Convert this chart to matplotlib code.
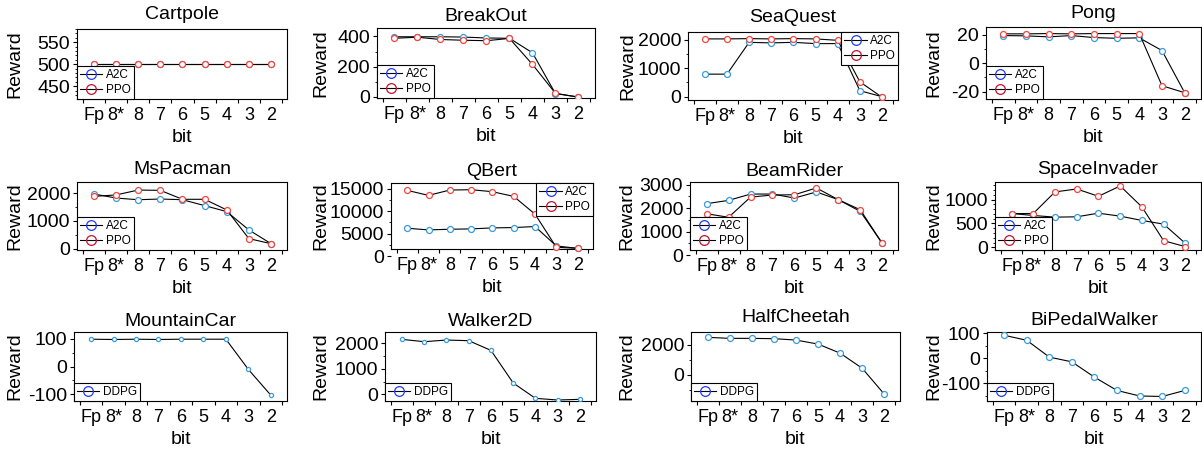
import matplotlib.pyplot as plt
from matplotlib.lines import Line2D
from matplotlib.ticker import MultipleLocator

plt.rcParams['font.family'] = ['Liberation Sans', 'DejaVu Sans']
plt.rcParams['axes.unicode_minus'] = False

# x categories (quantization bit width)
bits = ["Fp", "8*", "8", "7", "6", "5", "4", "3", "2"]

# rewards
cartpole_a2c = [500, 500, 500, 500, 500, 500, 500, 500, 500]
cartpole_ppo = [500, 500, 500, 500, 500, 500, 500, 500, 500]
breakout_a2c = [398, 398, 398, 396, 390, 388, 292, 22, 0]
breakout_ppo = [388, 395, 380, 375, 372, 387, 215, 24, -2]
seaquest_a2c = [790, 790, 1905, 1885, 1905, 1860, 1860, 210, 0]
seaquest_ppo = [2025, 2025, 2035, 2025, 2035, 2025, 1975, 520, -20]
pong_a2c = [19.3, 19.1, 18.4, 19.3, 17.9, 17.4, 17.7, 8.8, -20.7]
pong_ppo = [20.5, 20.5, 20.7, 20.5, 20.7, 20.7, 20.7, -15.8, -20.7]
mspacman_a2c = [1965, 1820, 1760, 1785, 1760, 1550, 1335, 680, 190]
mspacman_ppo = [1880, 1930, 2105, 2095, 1775, 1775, 1395, 370, 190]
qbert_a2c = [6190, 5820, 5970, 6045, 6270, 6345, 6570, 2240, 1720]
qbert_ppo = [14630, 13510, 14700, 14780, 14330, 13280, 9330, 1940, 1720]
beamrider_a2c = [2190, 2330, 2600, 2600, 2430, 2690, 2360, 1860, 500]
beamrider_ppo = [1760, 1610, 2470, 2560, 2570, 2860, 2360, 1930, 500]
spaceinvader_a2c = [708, 667, 632, 639, 715, 653, 563, 486, 83]
spaceinvader_ppo = [708, 708, 1160, 1222, 1069, 1285, 847, 139, 14]
mountaincar_ddpg = [99, 98, 99, 98, 99, 99, 99, -10, -103]
walker2d_ddpg = [2143, 2052, 2117, 2091, 1714, 442, -156, -221, -195]
halfcheetah_ddpg = [2489, 2422, 2422, 2400, 2311, 2044, 1444, 444, -1267]
bipedal_ddpg = [91, 71, 4, -15, -76, -129, -151, -153, -129]

W, H = 1202, 451
FS = 14

line_colors = {"A2C": "#3b9bdb", "PPO": "#f0473f", "DDPG": "#3b9bdb"}
legend_colors = {"A2C": "#1f3cff", "PPO": "#c8102e", "DDPG": "#1f3cff"}

# box = (left, top, right, bottom) in pixels; ylab = right edge of "Reward"
# low = lowest tick value when that tick label sits below the frame
panels = [
    dict(title="Cartpole", series=[("A2C", cartpole_a2c), ("PPO", cartpole_ppo)],
         box=(77, 29, 287, 99), ylim=(421, 580), yticks=[450, 500, 550], minor=10,
         loc="lower left", ylab=23, tdy=14, cover=False, ms=4.3),
    dict(title="BreakOut", series=[("A2C", breakout_a2c), ("PPO", breakout_ppo)],
         box=(377, 28, 595, 98), ylim=(-7, 456), yticks=[0, 200, 400], minor=100,
         loc="lower left", ylab=329, tdy=11, cover=False, ms=4.3),
    dict(title="SeaQuest", series=[("A2C", seaquest_a2c), ("PPO", seaquest_ppo)],
         box=(688, 32, 898, 100), ylim=(-116, 2267), yticks=[0, 1000, 2000], minor=500,
         loc="upper right", ylab=636, tdy=15, cover=False, ms=4.3),
    dict(title="Pong", series=[("A2C", pong_a2c), ("PPO", pong_ppo)],
         box=(986, 27, 1201, 99), ylim=(-25.1, 25.3), yticks=[-20, 0, 20], minor=10,
         loc="lower left", ylab=942, tdy=13, cover=True, ms=4.3),
    dict(title="MsPacman", series=[("A2C", mspacman_a2c), ("PPO", mspacman_ppo)],
         box=(77, 182, 287, 250), ylim=(-36, 2393), yticks=[0, 1000, 2000], minor=500,
         loc="lower left", ylab=23, tdy=12, cover=False, ms=4.3),
    dict(title="QBert", series=[("A2C", qbert_a2c), ("PPO", qbert_ppo)],
         box=(391, 183, 593, 249), ylim=(1567, 16270), yticks=[0, 5000, 10000, 15000], minor=2500,
         loc="upper right", ylab=329, tdy=12, cover=False, ms=4.3, low=0),
    dict(title="BeamRider", series=[("A2C", beamrider_a2c), ("PPO", beamrider_ppo)],
         box=(690, 182, 898, 250), ylim=(214, 3114), yticks=[0, 1000, 2000, 3000], minor=500,
         loc="lower left", ylab=635, tdy=11, cover=False, ms=4.3, low=0),
    dict(title="SpaceInvader", series=[("A2C", spaceinvader_a2c), ("PPO", spaceinvader_ppo)],
         box=(995, 182, 1201, 250), ylim=(-56, 1368), yticks=[0, 500, 1000], minor=100,
         loc="lower left", ylab=942, tdy=12, cover=False, ms=4.3),
    dict(title="MountainCar", series=[("DDPG", mountaincar_ddpg)],
         box=(74, 332, 287, 401), ylim=(-124, 125), yticks=[-100, 0, 100], minor=50,
         loc="lower left", ylab=23, tdy=11, cover=False, ms=3.0),
    dict(title="Walker2D", series=[("DDPG", walker2d_ddpg)],
         box=(385, 332, 596, 401), ylim=(-260, 2430), yticks=[0, 1000, 2000], minor=500,
         loc="lower left", ylab=329, tdy=11, cover=False, ms=3.0),
    dict(title="HalfCheetah", series=[("DDPG", halfcheetah_ddpg)],
         box=(691, 332, 900, 401), ylim=(-1733, 2844), yticks=[0, 2000], minor=1000,
         loc="lower left", ylab=635, tdy=14, cover=True, ms=4.3),
    dict(title="BiPedalWalker", series=[("DDPG", bipedal_ddpg)],
         box=(987, 332, 1201, 401), ylim=(-171, 104), yticks=[-100, 0, 100], minor=50,
         loc="lower left", ylab=942, tdy=12, cover=False, ms=4.3),
]

fig = plt.figure(figsize=(W / 100, H / 100), dpi=100)
x = list(range(len(bits)))

for p in panels:
    l, t, r, b = p["box"]
    y0, y1 = p["ylim"]
    # if the lowest tick label hangs under the frame, grow the axes down to it
    # and keep the frame's bottom edge where the picture has it
    low = p.get("low", y0)
    lo = min(low, y0)
    scale = (b - t) / (y1 - y0)
    b_ext = b + (y0 - lo) * scale
    w, h = r - l, b_ext - t
    frac = (y0 - lo) / (y1 - lo)
    ax = fig.add_axes([l / W, 1 - b_ext / H, w / W, h / H])

    for name, vals in p["series"]:
        ax.plot(x, vals, color="black", lw=0.8, marker="o", ms=p["ms"],
                mfc="white", mec=line_colors[name], mew=0.9, zorder=3)

    ax.set_xlim(-0.76, 8.72)
    ax.set_ylim(lo - 1e-6 * (y1 - lo), y1)
    if lo < y0:
        ax.spines["bottom"].set_position(("data", y0))
        ax.spines["left"].set_bounds(y0, y1)
        ax.spines["right"].set_bounds(y0, y1)

    # major ticks at the bin edges, labels centred under the points
    ax.set_xticks([i - 0.5 for i in range(len(bits) + 1)])
    ax.set_xticklabels([])
    ax.set_xticks(x, minor=True)
    ax.set_xticklabels(bits, minor=True)
    ax.tick_params(axis="x", which="major", direction="out", length=3, width=0.8)
    ax.tick_params(axis="x", which="minor", length=0, pad=6, labelsize=13)
    ax.set_yticks(p["yticks"])
    ax.yaxis.set_minor_locator(MultipleLocator(p["minor"]))
    ax.tick_params(axis="y", which="major", direction="out", length=3, width=0.8,
                   pad=2, labelsize=FS)
    ax.tick_params(axis="y", which="minor", direction="out", length=1.5, width=0.6)
    for s in ax.spines.values():
        s.set_linewidth(0.8)

    ax.set_ylabel("Reward", fontsize=FS)
    ax.yaxis.set_label_coords((p["ylab"] - l) / w, frac + (1 - frac) / 2)
    ax.set_xlabel("bit", fontsize=FS)
    ax.xaxis.set_label_coords(0.5, frac - 30 / h)

    box = dict(facecolor="white", edgecolor="none", pad=3) if p["cover"] else None
    ax.text(0.5, 1 + p["tdy"] / h, p["title"], transform=ax.transAxes,
            ha="center", va="center", fontsize=FS, bbox=box, zorder=5)

    handles = [Line2D([], [], color="black", lw=0.8, marker="o", ms=7,
                      mfc="none", mec=legend_colors[name], mew=0.9)
               for name, _ in p["series"]]
    if p["loc"] == "lower left":
        anchor = (0, frac)
    else:
        anchor = (1, 1)
    leg = ax.legend(handles, [name for name, _ in p["series"]], loc=p["loc"],
                    bbox_to_anchor=anchor, borderaxespad=0, fontsize=8.5,
                    fancybox=False, framealpha=1, edgecolor="black",
                    handlelength=1.9, handletextpad=0.3, labelspacing=0.25,
                    borderpad=0.25)
    leg.get_frame().set_linewidth(0.8)

fig.savefig("out.png", dpi=100)
